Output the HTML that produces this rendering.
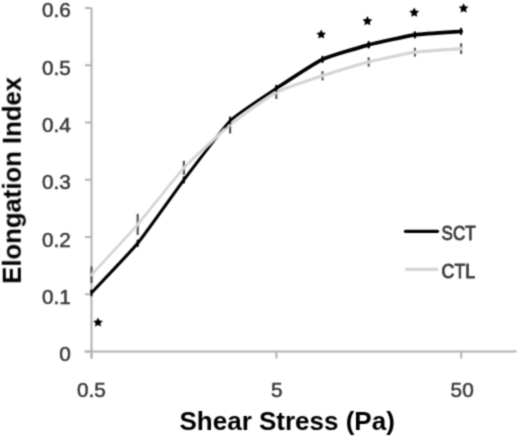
<!DOCTYPE html>
<html><head><meta charset="utf-8"><style>
html,body{margin:0;padding:0;background:#fff;}
body{width:520px;height:438px;overflow:hidden;}
svg{display:block;}
text{font-family:"Liberation Sans",sans-serif;}
.t{font-size:20.8px;fill:#383838;stroke:#383838;stroke-width:0.5px;}
</style></head><body>
<svg width="520" height="438" viewBox="0 0 520 438">
<defs><filter id="bl" x="-5%" y="-5%" width="110%" height="110%"><feConvolveMatrix order="3" kernelMatrix="0.0400 0.1200 0.0400 0.1200 0.3600 0.1200 0.0400 0.1200 0.0400" preserveAlpha="false" edgeMode="duplicate"/></filter></defs>
<rect width="520" height="438" fill="#fff"/>
<g filter="url(#bl)">
<line x1="91.5" y1="8" x2="91.5" y2="358.5" stroke="#b2b2b2" stroke-width="2"/>
<line x1="84.5" y1="351.6" x2="516.5" y2="351.6" stroke="#b2b2b2" stroke-width="2"/>
<line x1="85" y1="351.6" x2="91.5" y2="351.6" stroke="#b2b2b2" stroke-width="2"/>
<text class="t" x="59.2" y="361.1" textLength="11.6" lengthAdjust="spacingAndGlyphs">0</text>
<line x1="85" y1="294.3" x2="91.5" y2="294.3" stroke="#b2b2b2" stroke-width="2"/>
<text class="t" x="41.9" y="303.8" textLength="28.9" lengthAdjust="spacingAndGlyphs">0.1</text>
<line x1="85" y1="237.1" x2="91.5" y2="237.1" stroke="#b2b2b2" stroke-width="2"/>
<text class="t" x="41.9" y="246.5" textLength="28.9" lengthAdjust="spacingAndGlyphs">0.2</text>
<line x1="85" y1="179.8" x2="91.5" y2="179.8" stroke="#b2b2b2" stroke-width="2"/>
<text class="t" x="41.9" y="189.2" textLength="28.9" lengthAdjust="spacingAndGlyphs">0.3</text>
<line x1="85" y1="122.5" x2="91.5" y2="122.5" stroke="#b2b2b2" stroke-width="2"/>
<text class="t" x="41.9" y="132.0" textLength="28.9" lengthAdjust="spacingAndGlyphs">0.4</text>
<line x1="85" y1="65.2" x2="91.5" y2="65.2" stroke="#b2b2b2" stroke-width="2"/>
<text class="t" x="41.9" y="74.7" textLength="28.9" lengthAdjust="spacingAndGlyphs">0.5</text>
<line x1="85" y1="8.0" x2="91.5" y2="8.0" stroke="#b2b2b2" stroke-width="2"/>
<text class="t" x="41.9" y="17.4" textLength="28.9" lengthAdjust="spacingAndGlyphs">0.6</text>
<line x1="91.5" y1="351.6" x2="91.5" y2="358.5" stroke="#b2b2b2" stroke-width="2"/>
<text class="t" x="77.0" y="396.8" textLength="28.9" lengthAdjust="spacingAndGlyphs">0.5</text>
<line x1="276.4" y1="351.6" x2="276.4" y2="358.5" stroke="#b2b2b2" stroke-width="2"/>
<text class="t" x="271.1" y="396.8" textLength="11.6" lengthAdjust="spacingAndGlyphs">5</text>
<line x1="461.2" y1="351.6" x2="461.2" y2="358.5" stroke="#b2b2b2" stroke-width="2"/>
<text class="t" x="450.6" y="396.8" textLength="23.1" lengthAdjust="spacingAndGlyphs">50</text>
<line x1="91.5" y1="266.5" x2="91.5" y2="283.1" stroke="#555" stroke-width="2.2"/>
<line x1="137.7" y1="213.9" x2="137.7" y2="234.9" stroke="#555" stroke-width="2.2"/>
<line x1="183.9" y1="160.8" x2="183.9" y2="174.8" stroke="#555" stroke-width="2.2"/>
<line x1="230.1" y1="116.5" x2="230.1" y2="133.5" stroke="#555" stroke-width="2.2"/>
<line x1="276.3" y1="86.0" x2="276.3" y2="99.0" stroke="#555" stroke-width="2.2"/>
<line x1="322.5" y1="71.2" x2="322.5" y2="80.4" stroke="#555" stroke-width="2.2"/>
<line x1="368.7" y1="57.4" x2="368.7" y2="66.6" stroke="#555" stroke-width="2.2"/>
<line x1="414.9" y1="47.8" x2="414.9" y2="56.6" stroke="#555" stroke-width="2.2"/>
<line x1="461.1" y1="43.3" x2="461.1" y2="53.9" stroke="#555" stroke-width="2.2"/>
<path d="M91.5,274.8 C95.2,270.8 130.3,233.0 137.7,224.4 C145.1,215.8 176.5,175.8 183.9,167.8 C191.3,159.8 222.7,131.0 230.1,125.0 C237.5,119.0 268.9,96.4 276.3,92.5" fill="none" stroke="#d5d5d5" stroke-width="2.7" stroke-linejoin="round" stroke-linecap="round"/>
<path d="M276.3,92.5 C283.7,88.6 315.1,78.2 322.5,75.8 C329.9,73.4 361.3,63.9 368.7,62.0 C376.1,60.1 407.5,53.3 414.9,52.2 C422.3,51.1 457.4,48.9 461.1,48.6" fill="none" stroke="#d5d5d5" stroke-width="3.2" stroke-linejoin="round" stroke-linecap="round"/>
<line x1="91.5" y1="290.2" x2="91.5" y2="295.4" stroke="#000" stroke-width="2.2" stroke-linecap="round"/>
<line x1="137.7" y1="240.7" x2="137.7" y2="245.9" stroke="#000" stroke-width="2.2" stroke-linecap="round"/>
<line x1="183.9" y1="177.3" x2="183.9" y2="182.5" stroke="#000" stroke-width="2.2" stroke-linecap="round"/>
<line x1="230.1" y1="118.4" x2="230.1" y2="123.6" stroke="#000" stroke-width="2.2" stroke-linecap="round"/>
<line x1="276.3" y1="85.9" x2="276.3" y2="91.1" stroke="#000" stroke-width="2.2" stroke-linecap="round"/>
<line x1="322.5" y1="56.8" x2="322.5" y2="62.0" stroke="#000" stroke-width="2.2" stroke-linecap="round"/>
<line x1="368.7" y1="42.2" x2="368.7" y2="47.4" stroke="#000" stroke-width="2.2" stroke-linecap="round"/>
<line x1="414.9" y1="32.3" x2="414.9" y2="37.5" stroke="#000" stroke-width="2.2" stroke-linecap="round"/>
<line x1="461.1" y1="28.8" x2="461.1" y2="34.0" stroke="#000" stroke-width="2.2" stroke-linecap="round"/>
<path d="M91.5,292.8 C95.2,288.8 130.3,252.3 137.7,243.3 C145.1,234.3 176.5,189.7 183.9,179.9 C191.3,170.1 222.7,128.3 230.1,121.0 C237.5,113.7 268.9,93.4 276.3,88.5" fill="none" stroke="#000" stroke-width="3.1" stroke-linejoin="round" stroke-linecap="round"/>
<path d="M276.3,88.5 C283.7,83.6 315.1,62.9 322.5,59.4 C329.9,55.9 361.3,46.8 368.7,44.8 C376.1,42.8 407.5,36.0 414.9,34.9 C422.3,33.8 457.4,31.7 461.1,31.4" fill="none" stroke="#000" stroke-width="3.8" stroke-linejoin="round" stroke-linecap="round"/>
<clipPath id="cg"><rect x="195" y="100" width="30" height="80"/></clipPath>
<path d="M91.5,274.8 C95.2,270.8 130.3,233.0 137.7,224.4 C145.1,215.8 176.5,175.8 183.9,167.8 C191.3,159.8 222.7,131.0 230.1,125.0 C237.5,119.0 268.9,96.4 276.3,92.5" fill="none" stroke="#d5d5d5" stroke-width="2.7" stroke-linejoin="round" stroke-linecap="round" clip-path="url(#cg)"/>
<polygon points="98.0,317.4 99.5,320.4 102.9,320.9 100.4,323.3 101.0,326.6 98.0,325.1 95.0,326.6 95.6,323.3 93.1,320.9 96.5,320.4" fill="#000"/>
<polygon points="321.2,29.4 322.7,32.4 326.1,32.9 323.6,35.3 324.2,38.6 321.2,37.0 318.2,38.6 318.8,35.3 316.3,32.9 319.7,32.4" fill="#000"/>
<polygon points="367.4,16.1 368.9,19.1 372.3,19.6 369.8,22.0 370.4,25.3 367.4,23.8 364.4,25.3 365.0,22.0 362.5,19.6 365.9,19.1" fill="#000"/>
<polygon points="414.2,7.6 415.7,10.6 419.1,11.1 416.6,13.5 417.2,16.8 414.2,15.2 411.2,16.8 411.8,13.5 409.3,11.1 412.7,10.6" fill="#000"/>
<polygon points="463.6,3.2 465.1,6.2 468.5,6.7 466.0,9.1 466.6,12.4 463.6,10.9 460.6,12.4 461.2,9.1 458.7,6.7 462.1,6.2" fill="#000"/>
<line x1="405.5" y1="231.3" x2="437.5" y2="231.3" stroke="#000" stroke-width="3.3" stroke-linecap="round"/>
<line x1="405" y1="269.3" x2="438" y2="269.3" stroke="#d5d5d5" stroke-width="3.3"/>
<text class="t" style="font-size:19.5px;stroke-width:0.8px" x="441.6" y="239.6" textLength="34" lengthAdjust="spacingAndGlyphs">SCT</text>
<text class="t" style="font-size:19.5px;stroke-width:0.8px" x="441.6" y="278" textLength="33.5" lengthAdjust="spacingAndGlyphs">CTL</text>
<text x="179.5" y="430" font-size="26" font-weight="bold" fill="#000">Shear Stress (Pa)</text>
<text transform="translate(20.8,283.8) rotate(-90)" x="0" y="0" font-size="26" font-weight="bold" fill="#000" textLength="206.9" lengthAdjust="spacingAndGlyphs">Elongation Index</text>
</g></svg></body></html>
